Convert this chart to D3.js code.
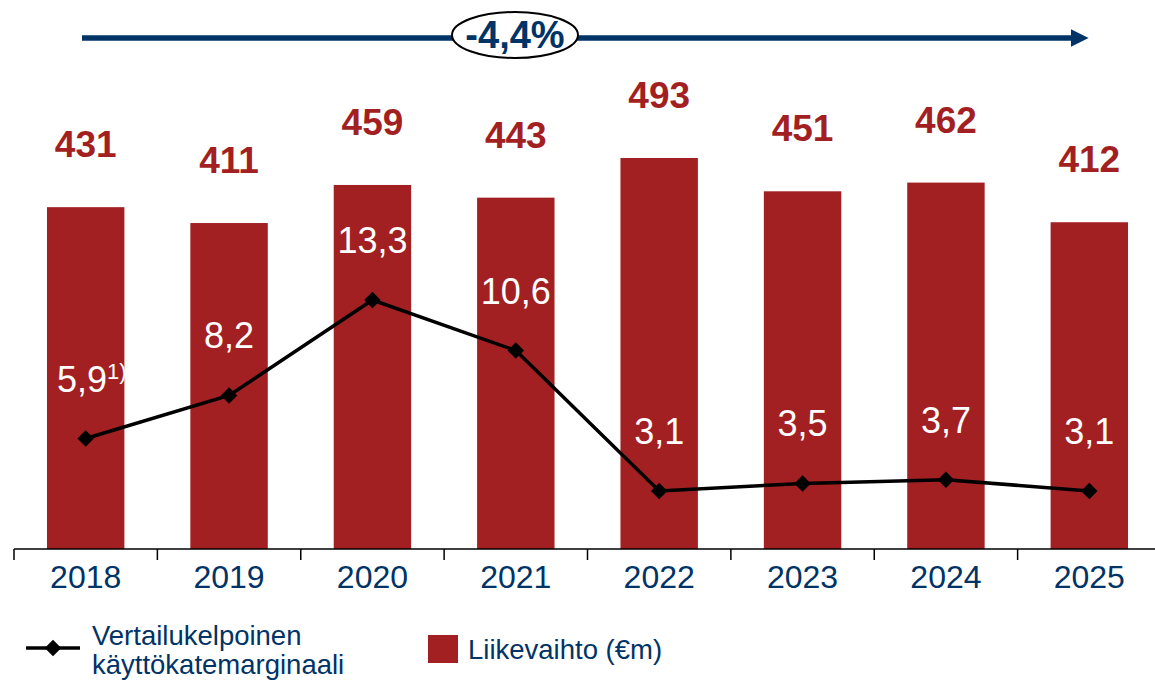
<!DOCTYPE html>
<meta charset="utf-8">
<style>
body { margin: 0; background: #fff; }
text { font-family: "Liberation Sans", Arial, sans-serif; }
</style>
<body>
<script src="https://cdn.jsdelivr.net/npm/d3@7"></script>
<script>

var years = ["2018", "2019", "2020", "2021", "2022", "2023", "2024", "2025"];
var sales = [431, 411, 459, 443, 493, 451, 462, 412];
var margin = [5.9, 8.2, 13.3, 10.6, 3.1, 3.5, 3.7, 3.1];
var marginLabels = ["5,9", "8,2", "13,3", "10,6", "3,1", "3,5", "3,7", "3,1"];
var cagrLabel = "-4,4%";

var width = 1155, height = 680;
var red = "#a21f22", navy = "#003366";
var base = 549;

var svg = d3.select("body").append("svg")
    .attr("width", width)
    .attr("height", height);

var x = d3.scaleBand().domain(years).range([14, 1161]).paddingInner(0.46).paddingOuter(0.23);
var y = d3.scaleLinear().domain([0, 493]).range([base, 158]);
var y2 = d3.scaleLinear().domain([0, 13.3]).range([base, 300]);

// bars
svg.selectAll("rect.bar").data(sales).enter().append("rect")
    .attr("class", "bar")
    .attr("x", function(d, i){ return x(years[i]); })
    .attr("y", function(d){ return y(d); })
    .attr("width", x.bandwidth())
    .attr("height", function(d){ return base - y(d); })
    .attr("fill", red);

// bar value labels
svg.selectAll("text.sales").data(sales).enter().append("text")
    .attr("class", "sales")
    .attr("x", function(d, i){ return x(years[i]) + x.bandwidth() / 2; })
    .attr("y", function(d){ return y(d) - 50; })
    .attr("text-anchor", "middle")
    .attr("font-size", 37)
    .attr("font-weight", "bold")
    .attr("fill", red)
    .text(function(d){ return d; });

// x axis
var axis = svg.append("g").attr("transform", "translate(0," + base + ")");
axis.append("line").attr("x1", 14).attr("x2", width).attr("stroke", "#000").attr("stroke-width", 1.5);
axis.selectAll("line.tick").data(years).enter().append("line")
    .attr("class", "tick")
    .attr("x1", function(d){ return x(d) - x.step() * 0.23; })
    .attr("x2", function(d){ return x(d) - x.step() * 0.23; })
    .attr("y1", 0).attr("y2", 11)
    .attr("stroke", "#000").attr("stroke-width", 1.5);
axis.selectAll("text").data(years).enter().append("text")
    .attr("x", function(d){ return x(d) + x.bandwidth() / 2; })
    .attr("y", 39)
    .attr("text-anchor", "middle")
    .attr("font-size", 32)
    .attr("fill", navy)
    .text(function(d){ return d; });

// margin line
var cx = function(d, i){ return x(years[i]) + x.bandwidth() / 2; };
var line = d3.line().x(cx).y(function(d){ return y2(d); });
svg.append("path").datum(margin)
    .attr("d", line)
    .attr("fill", "none")
    .attr("stroke", "#000")
    .attr("stroke-width", 3.5);

var marker = d3.symbol().type(d3.symbolSquare).size(135);
svg.selectAll("path.pt").data(margin).enter().append("path")
    .attr("class", "pt")
    .attr("d", marker)
    .attr("transform", function(d, i){ return "translate(" + cx(d, i) + "," + y2(d) + ") rotate(45)"; })
    .attr("fill", "#000");

var ml = svg.selectAll("text.margin").data(margin).enter().append("text")
    .attr("class", "margin")
    .attr("x", cx)
    .attr("y", function(d){ return y2(d) - 47; })
    .attr("text-anchor", "middle")
    .attr("font-size", 36)
    .attr("fill", "#fff")
    .text(function(d, i){ return marginLabels[i]; });
ml.filter(function(d, i){ return i === 0; })
    .append("tspan").attr("font-size", 22).attr("dy", -13).text("1)");
ml.filter(function(d, i){ return i === 0; }).attr("x", function(d){ return cx(d, 0) + 6; });

// CAGR arrow
svg.append("defs").append("marker")
    .attr("id", "head")
    .attr("viewBox", "0 0 10 10")
    .attr("refX", 0).attr("refY", 5)
    .attr("markerWidth", 3.2).attr("markerHeight", 3.2)
    .attr("markerUnits", "strokeWidth")
    .attr("orient", "auto")
    .append("path").attr("d", "M0,0L10,5L0,10Z").attr("fill", navy);
svg.append("line")
    .attr("x1", 82).attr("x2", 1071).attr("y1", 38).attr("y2", 38)
    .attr("stroke", navy).attr("stroke-width", 5.5)
    .attr("marker-end", "url(#head)");
svg.append("ellipse")
    .attr("cx", 515).attr("cy", 35).attr("rx", 63).attr("ry", 23)
    .attr("fill", "#fff").attr("stroke", "#000").attr("stroke-width", 2);
svg.append("text")
    .attr("x", 515).attr("y", 48)
    .attr("text-anchor", "middle")
    .attr("font-size", 38).attr("font-weight", "bold")
    .attr("fill", navy)
    .text(cagrLabel);

// legend
var lg = svg.append("g");
lg.append("line").attr("x1", 26).attr("x2", 80).attr("y1", 648).attr("y2", 648)
    .attr("stroke", "#000").attr("stroke-width", 3.5);
lg.append("path").attr("d", d3.symbol().type(d3.symbolSquare).size(135))
    .attr("transform", "translate(53,648) rotate(45)").attr("fill", "#000");
lg.append("text").attr("x", 92).attr("y", 645).attr("font-size", 27.5).attr("fill", navy).text("Vertailukelpoinen");
lg.append("text").attr("x", 92).attr("y", 674).attr("font-size", 27.5).attr("fill", navy).text("käyttökatemarginaali");
lg.append("rect").attr("x", 428).attr("y", 635).attr("width", 30).attr("height", 28).attr("fill", red);
lg.append("text").attr("x", 468).attr("y", 659).attr("font-size", 27.5).attr("fill", navy).text("Liikevaihto (€m)");

</script>
</body>
